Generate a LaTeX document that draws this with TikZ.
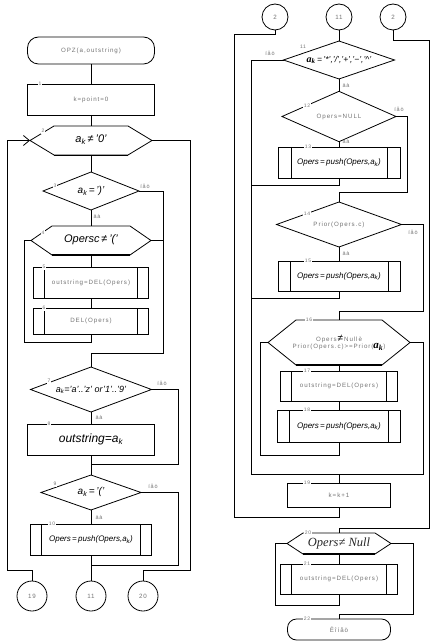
\documentclass[tikz,border=0pt]{standalone}
\usepackage{fontspec}
\setmainfont{Liberation Sans}
\newfontfamily\spc[LetterSpace=15]{Liberation Sans}
\newfontfamily\srf{Liberation Serif}
\usetikzlibrary{shapes.geometric,arrows.meta}
\newcommand\myak{a\textsubscript{k}}
\newcommand\myhex[7]{%
  \coordinate (#1w) at ({#2-#4},#3);
  \coordinate (#1e) at ({#2+#4},#3);
  \coordinate (#1n) at (#2,{#3-#5});
  \coordinate (#1s) at (#2,{#3+#5});
  \draw[ln] (#1w) -- ({#2-#4+#6},{#3-#5}) -- ({#2+#4-#6},{#3-#5}) -- (#1e) -- ({#2+#4-#6},{#3+#5}) -- ({#2-#4+#6},{#3+#5}) -- cycle;
  \draw[line width=#7] ({#2-#4+#6},{#3+#5}) -- ({#2+#4-#6},{#3+#5});
}
\newcommand\pdp[2]{%
  \draw[ln] ([xshift=#2pt]#1.north west) -- ([xshift=#2pt]#1.south west);
  \draw[ln] ([xshift=-#2pt]#1.north east) -- ([xshift=-#2pt]#1.south east);
}
\tikzset{
  ln/.style={line width=0.8pt},
  box/.style={draw, line width=0.8pt, rectangle, inner sep=0pt, outer sep=0pt},
  term/.style={box, rounded corners=11pt},
  dia/.style={draw, line width=0.8pt, diamond, inner sep=0pt, outer sep=0pt},
  circ/.style={draw, line width=0.8pt, circle, inner sep=0pt, outer sep=0pt, minimum size=30pt},
  gtxt/.style={font=\spc\fontsize{6.2}{8}\selectfont, text=black!55},
  num/.style={font=\spc\fontsize{5}{5}\selectfont, text=black!55, fill=white, inner sep=0.8pt},
  yn/.style={font=\spc\fontsize{5.5}{6}\selectfont, text=black!55, inner sep=0pt},
  itx/.style={font=\itshape\fontsize{#1}{#1}\selectfont, inner sep=0pt},
  arr/.style={-{Straight Barb[length=6pt,width=10pt]}}
}
\begin{document}
\begin{tikzpicture}[x=1pt,y=-1pt]
\useasboundingbox (0,0) rectangle (431,644);
% ---------------- left column ----------------
\node[term, minimum width=127pt, minimum height=27pt, gtxt] (t0) at (91,50.5) {OPZ(a,outstring)};
\node[box, minimum width=127pt, minimum height=31pt, gtxt] (b1) at (91,99.5) {k=point=0};
\myhex{h2}{91}{140.5}{61}{14.5}{24}{0.8pt}
\node[itx=11] (h2t) at (91,140) {\myak\,≠\,'0'};
\node[dia, minimum width=96pt, minimum height=38pt] (d3) at (91,191) {};
\node[itx=10] (d3t) at (91,191) {\myak\,=\,')'};
\myhex{h4}{91}{240.5}{60}{14.5}{21}{2pt}
\node[itx=11] (h4t) at (91,240) {Opersc\,≠\,'('};
\node[box, minimum width=115pt, minimum height=31pt, gtxt] (b5) at (91,282.5) {outstring=DEL(Opers)};
\pdp{b5}{11}
\node[box, minimum width=115pt, minimum height=26pt, gtxt] (b6) at (91,321) {DEL(Opers)};
\pdp{b6}{11}
\node[dia, minimum width=121pt, minimum height=45pt] (d7) at (91,389.5) {};
\node[itx=9] (d7t) at (91,390) {\myak='a'..'z' or'1'..'9'};
\node[box, minimum width=127pt, minimum height=31pt, itx=12] (b8) at (91,439.5) {outstring=\myak};
\node[dia, minimum width=100pt, minimum height=35pt] (d9) at (91,492.5) {};
\node[itx=10] (d9t) at (91,492) {\myak\,=\,'('};
\node[box, minimum width=121pt, minimum height=31pt, itx=8] (b10) at (91,539.5) {Opers\,=\,push(Opers,\myak)};
\pdp{b10}{11}
\node[circ, gtxt] (c19) at (32,596) {19};
\node[circ, gtxt] (c11) at (91,596) {11};
\node[circ, gtxt] (c20) at (143,596) {20};
% left connectors
\draw[ln] (t0.south) -- (b1.north);
\draw[ln] (b1.south) -- (h2n);
\draw[ln] (h2s) -- (d3.north);
\draw[ln] (d3.south) -- (h4n);
\draw[ln] (h4s) -- (b5.north);
\draw[ln] (b5.south) -- (b6.north);
\draw[ln] (b6.south) |- (24,342) |- (h4w);
\draw[ln] (d3.east) -| (163,353) -| (d7.north);
\draw[ln] (h4e) -- (163,240.5);
\draw[ln] (d7.south) -- (b8.north);
\draw[ln] (d7.east) -| (178,464) -| (d9.north);
\draw[ln] (b8.south) -- (d9.north);
\draw[ln] (d9.south) -- (b10.north);
\draw[ln] (d9.east) -| (178,565) -| (c11.north);
\draw[ln] (b10.south) -- (c11.north);
\draw[ln, arr] (c19.north) |- (7,570) |- (h2w);
\draw[ln] (h2e) -| (190,570) -| (c20.north);
% left labels
\node[num] (n1) at (40,84) {1};
\node[num] (n2) at (43,131) {2};
\node[num] (n3) at (55,186) {3};
\node[num] (n4) at (43,233) {4};
\node[num] (n5) at (44,267) {5};
\node[num] (n6) at (44,308) {6};
\node[num] (n7) at (49,381) {7};
\node[num] (n8) at (49,424) {8};
\node[num] (n9) at (55,484) {9};
\node[num] (n10) at (52,524) {10};
\node[yn] (y3n) at (145,186) {íåò};
\node[yn] (y3y) at (97,217) {äà};
\node[yn] (y7n) at (162,383) {íåò};
\node[yn] (y7y) at (99,417) {äà};
\node[yn] (y9n) at (153,486) {íåò};
\node[yn] (y9y) at (99,517) {äà};
% ---------------- right column ----------------
\node[circ, minimum size=26pt, gtxt] (c2a) at (275,17) {2};
\node[circ, minimum size=26pt, gtxt] (c11r) at (339,17) {11};
\node[circ, minimum size=26pt, gtxt] (c2b) at (393,17) {2};
\node[dia, minimum width=111pt, minimum height=38pt] (d11) at (339,60) {};
\node[inner sep=0pt] (d11t) at (339,60) {{\srf\itshape\bfseries\fontsize{10}{10}\selectfont a\textsubscript{k}}{\itshape\fontsize{8.5}{8.5}\selectfont\,=\,'*','/','+','−','\^{}'}};
\node[dia, minimum width=114pt, minimum height=39pt, gtxt] (d12) at (339,116.5) {Opers=NULL};
\node[box, minimum width=122pt, minimum height=31pt, itx=8] (b13) at (339,162.5) {Opers\,=\,push(Opers,\myak)};
\pdp{b13}{13}
\node[dia, minimum width=125pt, minimum height=45pt] (d14) at (339,224.5) {};
\node[gtxt] (d14t) at (339,225) {Prior(Opers.c)};
\node[box, minimum width=122pt, minimum height=30pt, itx=8] (b15) at (339,276) {Opers\,=\,push(Opers,\myak)};
\pdp{b15}{12}
\myhex{h16}{339}{342.5}{71}{22.5}{28}{2pt}
\node[gtxt, align=center] (h16t) at (339,343) {Opers\,{\normalfont\color{black}\fontsize{10}{10}\selectfont ≠}\,Nullè\\[-1pt]Prior(Opers.c)>=Prior({\color{black}\srf\bfseries\itshape\fontsize{11}{11}\selectfont a\textsubscript{k}})};
\node[box, minimum width=117pt, minimum height=30pt, gtxt] (b17) at (339,386) {outstring=DEL(Opers)};
\pdp{b17}{11}
\node[box, minimum width=123pt, minimum height=32pt, itx=8] (b18) at (339,426) {Opers\,=\,push(Opers,\myak)};
\pdp{b18}{12}
\node[box, minimum width=103pt, minimum height=24pt, gtxt] (b19) at (339,495) {k=k+1};
\myhex{h20}{339}{543.5}{52}{10.5}{16}{2pt}
\node[inner sep=0pt, font=\srf\itshape\fontsize{12.5}{12.5}\selectfont, text=black!85] (h20t) at (339,543) {Opers≠ Null};
\node[box, minimum width=117pt, minimum height=30pt, gtxt] (b21) at (339,579) {outstring=DEL(Opers)};
\pdp{b21}{11}
\node[term, rounded corners=9pt, minimum width=103pt, minimum height=21pt, gtxt] (t22) at (339,629.5) {Êîíåö};
% right connectors
\draw[ln] (c11r.south) -- (d11.north);
\draw[ln] (d11.south) -- (d12.north);
\draw[ln] (d11.west) -| (251,474) -| (b19.north);
\draw[ln] (d12.south) -- (b13.north);
\draw[ln] (b13.south) |- (251,185);
\draw[ln] (d12.east) -| (407,192) -| (d14.north);
\draw[ln] (d14.south) -- (b15.north);
\draw[ln] (b15.south) |- (251,298);
\draw[ln] (d14.east) -| (423,311) -| (h16n);
\draw[ln] (h16s) -- (b17.north);
\draw[ln] (b17.south) -- (b18.north);
\draw[ln] (b18.south) |- (260,455) |- (h16w);
\draw[ln] (h16e) -| (423,474) -| (b19.north);
\draw[ln] (b19.south) |- (234,517) |- (275,34) -- (c2a.south);
\draw[ln] (c2b.south) |- (429,40) |- (339,528) -- (h20n);
\draw[ln] (h20s) -- (b21.north);
\draw[ln] (b21.south) |- (275,605) |- (h20w);
\draw[ln] (h20e) -| (413,614) -| (t22.north);
% right labels
\node[num] (n11) at (303,47) {11};
\node[num] (n12) at (307,106) {12};
\node[num] (n13) at (308,147) {13};
\node[num] (n14) at (307,214) {14};
\node[num] (n15) at (308,261) {15};
\node[num] (n16) at (309,320) {16};
\node[num] (n17) at (307,371) {17};
\node[num] (n18) at (307,410) {18};
\node[num] (n19) at (307,483) {19};
\node[num] (n20) at (308,533) {20};
\node[num] (n21) at (307,564) {21};
\node[num] (n22) at (307,619) {22};
\node[yn] (y11n) at (270,53) {íåò};
\node[yn] (y11y) at (346,86) {äà};
\node[yn] (y12n) at (399,109) {íåò};
\node[yn] (y12y) at (346,142) {äà};
\node[yn] (y14n) at (413,232) {íåò};
\node[yn] (y14y) at (346,254) {äà};
\end{tikzpicture}
\end{document}
